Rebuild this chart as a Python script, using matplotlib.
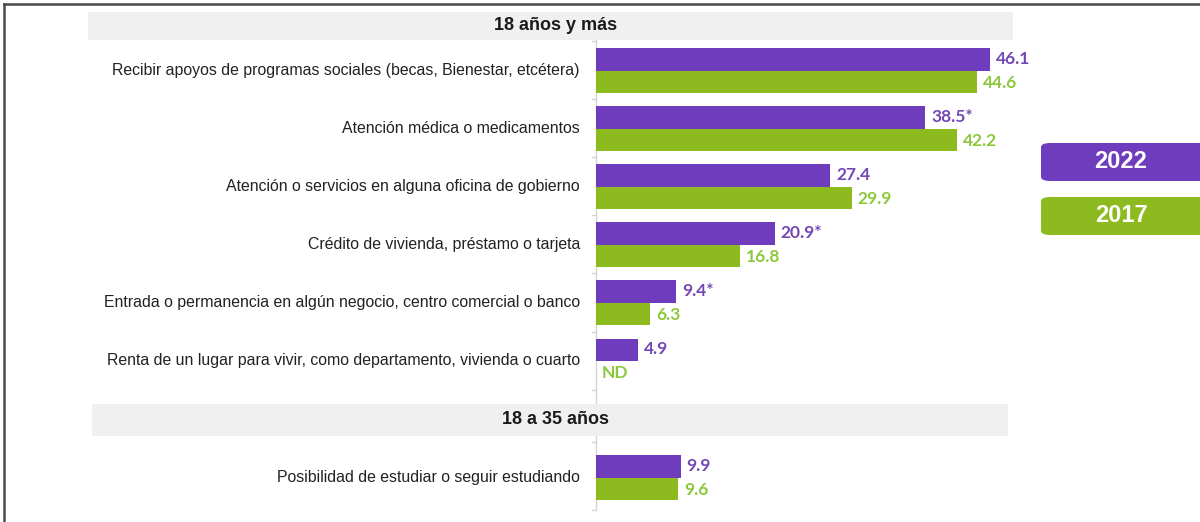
import matplotlib
matplotlib.use("Agg")
import matplotlib.pyplot as plt
from matplotlib.patches import Rectangle, FancyBboxPatch
from matplotlib.lines import Line2D
import numpy as np

# ---- data ----
group_titles = ["18 años y más", "18 a 35 años"]
categories = [
    "Recibir apoyos de programas sociales (becas, Bienestar, etcétera)",
    "Atención médica o medicamentos",
    "Atención o servicios en alguna oficina de gobierno",
    "Crédito de vivienda, préstamo o tarjeta",
    "Entrada o permanencia en algún negocio, centro comercial o banco",
    "Renta de un lugar para vivir, como departamento, vivienda o cuarto",
    "Posibilidad de estudiar o seguir estudiando",
]
category_group = [0, 0, 0, 0, 0, 0, 1]
values_2022 = [46.1, 38.5, 27.4, 20.9, 9.4, 4.9, 9.9]
values_2017 = [44.6, 42.2, 29.9, 16.8, 6.3, None, 9.6]
significant_2022 = [False, True, False, True, True, False, False]
series_names = ["2022", "2017"]

# ---- style ----
PURPLE = "#6E3CBC"
GREEN = "#8DBA1E"
PURPLE_TXT = "#7348B4"
GREEN_TXT = "#8CC83C"
HEADER_BG = "#F0F0F0"

W, H = 1200, 522
fig = plt.figure(figsize=(W / 100, H / 100), dpi=100)
fig.patch.set_facecolor("white")

x0_px = 596.0
px_per_unit = 8.55
ax = fig.add_axes([0, 0, 1, 1])
ax.set_xlim(-x0_px / px_per_unit, (W - x0_px) / px_per_unit)
ax.set_ylim(H, 0)
ax.axis("off")

def fx(px):
    return px / W

def fy(py):
    return 1 - py / H

# layout positions (pixels, vertical)
centers = [70.5 + 58.1 * i for i in range(6)] + [477.5]
bar_h = 22.5

# axis line and ticks
ax.plot([0, 0], [40, 510], color="#D6D6D6", lw=1, zorder=1)
tick_ys = [41 + 58.1 * i for i in range(7)] + [442, 510]
for ty in tick_ys:
    ax.plot([-4 / px_per_unit, 0], [ty, ty], color="#D6D6D6", lw=1, zorder=1)

# headers
header_boxes = [(88, 12, 1013, 40), (92, 404, 1008, 436)]
for (x1, y1, x2, y2), title in zip(header_boxes, group_titles):
    fig.patches.append(Rectangle((fx(x1), fy(y2)), fx(x2 - x1), (y2 - y1) / H,
                                 transform=fig.transFigure, facecolor=HEADER_BG,
                                 edgecolor="none", zorder=0))
    fig.text(fx(556), fy((y1 + y2) / 2), title, ha="center", va="center",
             fontsize=13, fontweight="bold", family="Liberation Sans", color="#1a1a1a")

# bars
y22 = np.array(centers) - bar_h / 2
y17 = np.array(centers) + bar_h / 2
v17_plot = [v if v is not None else 0 for v in values_2017]
ax.barh(y22, values_2022, height=bar_h, color=PURPLE, zorder=2)
ax.barh(y17, v17_plot, height=bar_h, color=GREEN, zorder=2)

off = 6 / px_per_unit
for i, cat in enumerate(categories):
    ax.text(-16 / px_per_unit, centers[i], cat, ha="right", va="center",
            fontsize=11.4, family="Liberation Sans", color="#222222")
    lab = f"{values_2022[i]:.1f}" + ("*" if significant_2022[i] else "")
    ax.text(values_2022[i] + off, y22[i] - 0.5, lab, ha="left", va="center",
            fontsize=12.5, fontweight="bold", family="Lato", color=PURPLE_TXT)
    v = values_2017[i]
    lab17 = f"{v:.1f}" if v is not None else "ND"
    ax.text((v if v is not None else 0) + off, y17[i] + 1, lab17, ha="left", va="center",
            fontsize=12.5, fontweight="bold", family="Lato", color=GREEN_TXT)

# legend boxes
legend_boxes = [(143, 181, PURPLE), (197, 235, GREEN)]
for (y1, y2, col), name in zip(legend_boxes, series_names):
    fig.patches.append(FancyBboxPatch((fx(1041), fy(y2)), fx(170), (y2 - y1) / H,
                                      boxstyle="round,pad=0,rounding_size=0.008",
                                      transform=fig.transFigure, facecolor=col,
                                      edgecolor="none", zorder=1))
    fig.text(fx(1121), fy((y1 + y2) / 2), name, ha="center", va="center",
             fontsize=17, fontweight="bold", family="Liberation Sans", color="white")

# outer border (top and left)
fig.lines.append(Line2D([fx(4), 1], [fy(4), fy(4)], transform=fig.transFigure,
                        color="#4a4a4a", lw=1.8))
fig.lines.append(Line2D([fx(4), fx(4)], [fy(4), 0], transform=fig.transFigure,
                        color="#4a4a4a", lw=1.8))

fig.savefig("out.png", dpi=100)
